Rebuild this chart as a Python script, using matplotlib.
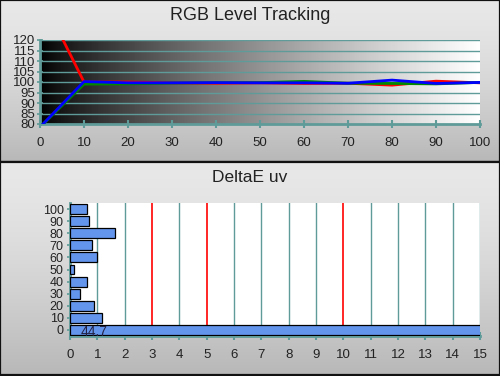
import matplotlib
matplotlib.use("Agg")
import matplotlib.pyplot as plt
import numpy as np

# RGB level tracking (percent of target) at each stimulus level
levels = [0, 10, 20, 30, 40, 50, 60, 70, 80, 90, 100]
red = [142.0, 100.0, 100.0, 99.6, 99.4, 99.6, 99.3, 99.4, 98.5, 100.4, 99.6]
green = [78.5, 99.0, 99.1, 99.5, 99.7, 99.7, 100.3, 99.4, 99.3, 99.1, 99.8]
blue = [78.5, 100.2, 99.6, 99.6, 99.7, 99.6, 99.6, 99.4, 100.9, 99.3, 99.8]

# DeltaE uv per level
de_levels = ["0", "10", "20", "30", "40", "50", "60", "70", "80", "90", "100"]
de_values = [44.7, 1.18, 0.89, 0.38, 0.63, 0.16, 0.98, 0.79, 1.63, 0.71, 0.61]
limit_lines = [3, 5, 10]

TEAL = "#5f9b98"
BAR = "#6495ed"
FONT = "Liberation Sans"

fig = plt.figure(figsize=(5.0, 3.76), dpi=100)


def panel(y0, y1):
    """Gray gradient panel with a dark border, in pixel coords of the figure."""
    ax = fig.add_axes([0, 1 - y1 / 376, 1, (y1 - y0) / 376], zorder=0)
    t = np.linspace(0, 1, 256).reshape(-1, 1)
    shade = 0.91 - 0.19 * t ** 1.5
    img = np.dstack([shade, shade, shade])
    ax.imshow(img, aspect="auto", extent=[0, 1, 0, 1], origin="upper")
    ax.set_xlim(0, 1)
    ax.set_ylim(0, 1)
    ax.set_xticks([])
    ax.set_yticks([])
    for s in ax.spines.values():
        s.set_color("#111111")
        s.set_linewidth(1.6)
    return ax


panel(0, 162)
panel(162, 375)

fig.text(0.5, 1 - 16 / 376, "RGB Level Tracking", ha="center", va="center",
         fontsize=13, family=FONT, color="#222222")
fig.text(0.5, 1 - 177 / 376, "DeltaE uv", ha="center", va="center",
         fontsize=12.5, family=FONT, color="#222222")

# top chart
ax1 = fig.add_axes([40 / 500, 1 - 124 / 376, 440 / 500, 84 / 376], zorder=2)
bg = np.linspace(0, 1, 256).reshape(1, -1)
ax1.imshow(bg ** 0.8, aspect="auto", cmap="gray", extent=[0, 100, 80, 120],
           vmin=0, vmax=1, zorder=0)
for v in range(85, 121, 5):
    ax1.axhline(v, color=TEAL, lw=1.0, zorder=1)
ax1.plot(levels, red, color="#ff0000", lw=2.0, zorder=3)
ax1.plot(levels, green, color="#008800", lw=2.0, zorder=4)
ax1.plot(levels, blue, color="#0000ff", lw=2.0, zorder=5)
ax1.set_xlim(0, 100)
ax1.set_ylim(80, 120)
ax1.set_xticks(levels)
ax1.set_yticks(range(80, 121, 5))
ax1.tick_params(axis="x", direction="inout", length=6, width=1.5, color=TEAL,
                labelsize=9.5, pad=6, labelcolor="#222222")
ax1.tick_params(axis="y", direction="inout", length=5, width=1.2, color=TEAL,
                labelsize=9.5, pad=1, labelcolor="#222222")
for lab in ax1.get_xticklabels() + ax1.get_yticklabels():
    lab.set_family(FONT)
for name, s in ax1.spines.items():
    if name in ("top", "right"):
        s.set_visible(False)
    else:
        s.set_color(TEAL)
        s.set_linewidth(2)

# bottom chart
ax2 = fig.add_axes([70 / 500, 1 - 336 / 376, 410 / 500, 133 / 376], zorder=2)
ax2.set_facecolor("white")
ypos = np.arange(len(de_levels))
for v in range(1, 16):
    if v in limit_lines:
        ax2.axvline(v, color="#ff0000", lw=1.2, zorder=1)
    else:
        ax2.axvline(v, color=TEAL, lw=1.0, zorder=1)
ax2.barh(ypos, de_values, height=0.82, color=BAR, edgecolor="black",
         linewidth=0.9, zorder=3)
ax2.text(0.88, -0.2, f"{de_values[0]:.1f}", ha="center",
         va="center", fontsize=10, family=FONT, color="#222244", zorder=4)
ax2.set_xlim(0, 15)
ax2.set_ylim(-0.5, len(de_levels) - 0.5)
ax2.set_xticks(range(0, 16))
ax2.set_yticks(ypos)
ax2.set_yticklabels(de_levels)
ax2.tick_params(axis="x", direction="inout", length=6, width=1.5, color=TEAL,
                labelsize=9.5, pad=6, labelcolor="#222222")
ax2.tick_params(axis="y", direction="inout", length=5, width=1.2, color=TEAL,
                labelsize=9, pad=2, labelcolor="#222222")
for lab in ax2.get_xticklabels() + ax2.get_yticklabels():
    lab.set_family(FONT)
for name, s in ax2.spines.items():
    if name in ("top", "right"):
        s.set_visible(False)
    else:
        s.set_color(TEAL)
        s.set_linewidth(2)

fig.savefig("out.png", dpi=100)
